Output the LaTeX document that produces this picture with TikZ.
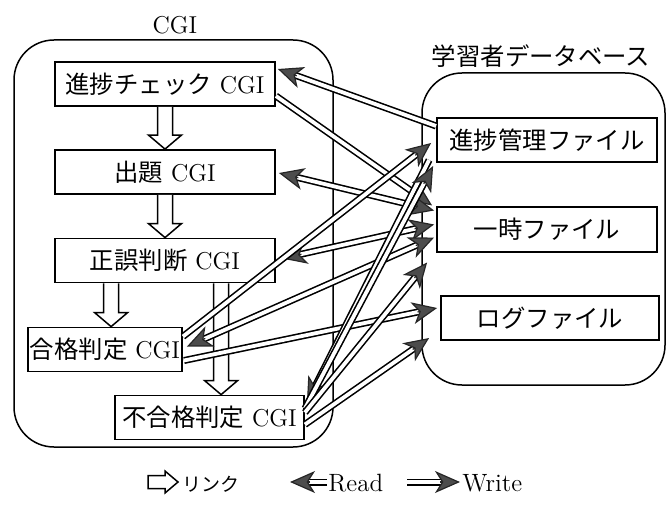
\documentclass[tikz,border=0pt]{standalone}
\usepackage{fontspec}
\newfontfamily\jp{Noto Sans CJK JP}
\usetikzlibrary{arrows.meta,calc}
\newcommand\linkdown[2]{%
  \draw[linkarrow] let \p1=(#1), \p2=(#2) in
    (\x1-3.75pt,\y1) -- (\x1-3.75pt,\y2+7pt) -- (\x1-8.25pt,\y2+7pt) --
    (\x1,\y2) -- (\x1+8.25pt,\y2+7pt) -- (\x1+3.75pt,\y2+7pt) -- (\x1+3.75pt,\y1);}
% one-headed read/write connector: head at #2
\newcommand\rwone[2]{%
  \draw[rw, shorten >=9pt] (#1) -- (#2);
  \draw[headpath] ($(#2)!10pt!(#1)$) -- (#2);}
% two-headed connector
\newcommand\rwtwo[2]{%
  \draw[rw, shorten >=9pt, shorten <=9pt] (#1) -- (#2);
  \draw[headpath] ($(#2)!10pt!(#1)$) -- (#2);
  \draw[headpath] ($(#1)!10pt!(#2)$) -- (#1);}
\begin{document}
\begin{tikzpicture}[x=0.5pt,y=-0.5pt,
  box/.style={draw, line width=0.9pt, minimum height=22pt, inner sep=1pt,
    font=\fontsize{12.2}{14}\selectfont},
  group/.style={draw, line width=0.75pt, rounded corners=20pt, inner sep=0pt},
  grouplabel/.style={inner sep=0pt, font=\fontsize{12.2}{14}\selectfont},
  rw/.style={draw=black, line width=0.8pt, double=white, double distance=1.9pt},
  rwhead/.tip={Stealth[length=12.5pt,width=11pt,inset=3.5pt,fill=black!70,color=black!85]},
  headpath/.style={line width=0.6pt, draw=black!85, -{rwhead}},
  linkarrow/.style={draw, line width=0.75pt, fill=white, line join=miter},
  legendtext/.style={inner sep=0pt, anchor=west, font=\fontsize{12.5}{14}\selectfont}]
\useasboundingbox (0,0) rectangle (667,507);

% groups
\node[group, minimum width=159.5pt, minimum height=203.5pt] (cgibox) at (173.5,243.5) {};
\node[grouplabel] (cgilabel) at (175,25) {CGI};
\node[group, minimum width=121.5pt, minimum height=156pt] (dbbox) at (543.5,229) {};
\node[grouplabel] (dblabel) at (541,56) {\jp 学習者データベース};

% CGI nodes
\node[box, minimum width=110pt] (jc) at (165,84) {{\jp 進捗チェック} CGI};
\node[box, minimum width=110pt] (sd) at (165,172) {{\jp 出題} CGI};
\node[box, minimum width=110pt] (sg) at (165,260.5) {{\jp 正誤判断} CGI};
\node[box, minimum width=77pt] (gk) at (105,349.5) {{\jp 合格判定} CGI};
\node[box, minimum width=94.5pt] (fg) at (209.5,417.5) {{\jp 不合格判定} CGI};

% file nodes
\node[box, minimum width=110pt] (pf) at (547,140) {\jp 進捗管理ファイル};
\node[box, minimum width=110pt, minimum height=22.5pt] (tf) at (547,229.5) {\jp 一時ファイル};
\node[box, minimum width=109pt] (lf) at (550,318) {\jp ログファイル};

% links
\coordinate (l3a) at ($(sg.south west)+(57,0)$);
\coordinate (l3b) at (l3a |- gk.north);
\coordinate (l4a) at ($(sg.south west)+(167,0)$);
\coordinate (l4b) at (l4a |- fg.north);
\linkdown{jc.south}{sd.north}
\linkdown{sd.south}{sg.north}
\linkdown{l3a}{l3b}
\linkdown{l4a}{l4b}

% connector end points
\coordinate (c1a) at ($(pf.west)+(0,-14)$);   \coordinate (c1b) at ($(jc.east)+(2,-15)$);
\coordinate (c2a) at ($(jc.east)+(0,12)$);    \coordinate (c2b) at ($(tf.west)+(-4,-24)$);
\coordinate (c3a) at ($(tf.west)+(-2,-19)$);  \coordinate (c3b) at ($(sd.east)+(3,1)$);
\coordinate (c4a) at ($(tf.west)+(-2,-5)$);   \coordinate (c4b) at ($(sg.east)+(6,-2)$);
\coordinate (c5a) at ($(gk.east)+(0,-13)$);   \coordinate (c5b) at ($(pf.west)+(-5,3)$);
\coordinate (c6a) at ($(tf.west)+(-2,8)$);    \coordinate (c6b) at ($(gk.east)+(4,-3)$);
\coordinate (c7a) at ($(gk.east)+(1,11)$);    \coordinate (c7b) at ($(lf.west)+(-3,-10)$);
\coordinate (c8a) at ($(pf.west)+(-7,20)$);   \coordinate (c8b) at ($(fg.east)+(2,-15)$);
\coordinate (c9a) at ($(fg.east)+(0,-9)$);    \coordinate (c9b) at ($(pf.west)+(-3,26)$);
\coordinate (c10a) at ($(fg.east)+(0,-5)$);   \coordinate (c10b) at ($(tf.west)+(-9,33)$);
\coordinate (c11a) at ($(fg.east)+(0,7)$);    \coordinate (c11b) at ($(lf.west)+(-11,20)$);

% read / write connectors
\rwone{c1a}{c1b}
\rwone{c2a}{c2b}
\rwtwo{c3a}{c3b}
\rwtwo{c4a}{c4b}
\rwone{c5a}{c5b}
\rwtwo{c6a}{c6b}
\rwone{c7a}{c7b}
\rwone{c8a}{c8b}
\rwone{c9a}{c9b}
\rwone{c10a}{c10b}
\rwone{c11a}{c11b}

% legend
\draw[linkarrow] (148,475.5) coordinate (lg1) -- (165,475.5) -- (165,471) -- (178,482)
  -- (165,493) -- (165,488.5) -- (148,488.5) -- cycle;
\node[legendtext, font=\fontsize{9.5}{10}\selectfont] (lglink) at (182,484) {\jp リンク};
\coordinate (rdA) at (290,482);
\coordinate (rdB) at (327,482);
\rwone{rdB}{rdA}
\node[legendtext] (lgread) at (328,483) {Read};
\coordinate (wrA) at (407,482);
\coordinate (wrB) at (460,482);
\rwone{wrA}{wrB}
\node[legendtext] (lgwrite) at (462,483) {Write};
\end{tikzpicture}
\end{document}
